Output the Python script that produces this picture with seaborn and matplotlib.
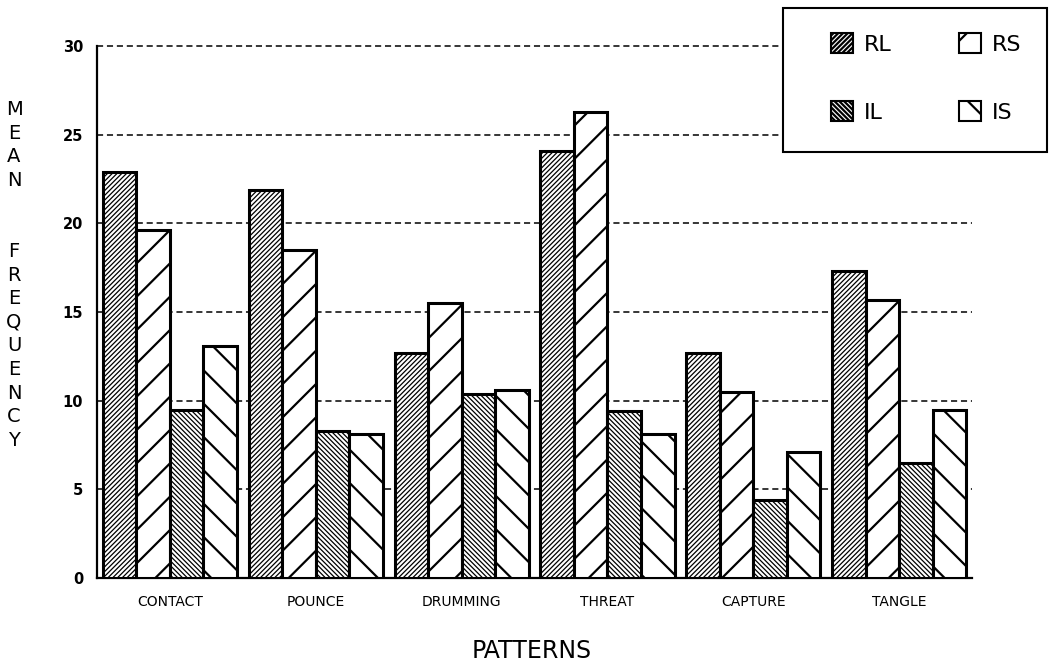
import numpy as np
import pandas as pd
import matplotlib
matplotlib.use("Agg")
import matplotlib.pyplot as plt
import seaborn as sns
from matplotlib import font_manager as fm
from matplotlib.patches import Patch, Rectangle
from matplotlib.ticker import FixedLocator

# ---- data ----
categories = ['CONTACT', 'POUNCE', 'DRUMMING', 'THREAT', 'CAPTURE', 'TANGLE']
groups = ['RL', 'RS', 'IL', 'IS']
RL = [22.9, 21.9, 12.7, 24.1, 12.7, 17.3]
RS = [19.6, 18.5, 15.5, 26.3, 10.5, 15.7]
IL = [9.5, 8.3, 10.4, 9.4, 4.4, 6.5]
IS = [13.1, 8.1, 10.6, 8.1, 7.1, 9.5]
y_ticks = [0, 5, 10, 15, 20, 25, 30]
x_label = 'PATTERNS'
y_label = 'MEAN  FREQUENCY'

values = {'RL': RL, 'RS': RS, 'IL': IL, 'IS': IS}
df = pd.DataFrame([(c, g, values[g][i]) for g in groups for i, c in enumerate(categories)],
                  columns=['pattern', 'group', 'value'])

sns.set_theme(style='white')
names = {f.name for f in fm.fontManager.ttflist}
narrow = 'Liberation Sans Narrow' if 'Liberation Sans Narrow' in names else 'DejaVu Sans'
plt.rcParams['font.family'] = [narrow, 'DejaVu Sans']
plt.rcParams['hatch.color'] = 'black'
for k in ['text.color', 'xtick.color', 'ytick.color', 'xtick.labelcolor', 'ytick.labelcolor']:
    plt.rcParams[k] = 'black'

per_artist = hasattr(Patch(), 'set_hatch_linewidth')
if per_artist:
    plt.rcParams['hatch.linewidth'] = 1.6
    hatches = {'RL': '/' * 7, 'RS': '/', 'IL': '\\' * 7, 'IS': '\\'}
else:
    plt.rcParams['hatch.linewidth'] = 1.1
    hatches = {'RL': '/' * 6, 'RS': '/', 'IL': '\\' * 6, 'IS': '\\'}
hatch_lw = {'RL': 0.9, 'RS': 1.6, 'IL': 0.9, 'IS': 1.6}

fig = plt.figure(figsize=(10.57, 6.72), dpi=100)
ax = fig.add_axes([97/1057, (672-578)/672, (972-97)/1057, (578-46)/672])

sns.barplot(data=df, x='pattern', y='value', hue='group', hue_order=groups,
            order=categories, palette={g: 'white' for g in groups}, saturation=1,
            edgecolor='black', linewidth=2.2, width=0.92, gap=0, legend=False, ax=ax,
            errorbar=None)
for cont, g in zip(ax.containers, groups):
    for bar in cont:
        bar.set_hatch(hatches[g])
        if per_artist:
            bar.set_hatch_linewidth(hatch_lw[g])
        bar.set_zorder(3)

ax.set_xlim(-0.5, len(categories) - 0.5)
ax.set_ylim(0, 30)
ax.set_yticks(y_ticks)
ax.set_yticklabels([str(t) for t in y_ticks], fontsize=10.5, fontweight='bold')
ax.tick_params(axis='y', direction='inout', length=12, width=1.3, color='black', pad=4)
ax.tick_params(axis='x', which='major', length=0, pad=12, labelsize=10)
ax.xaxis.set_minor_locator(FixedLocator(np.arange(-0.5, len(categories), 1.0)))
ax.tick_params(axis='x', which='minor', direction='inout', length=14, width=1.3, color='black')
ax.set_xlabel('')
ax.set_ylabel('')

ax.yaxis.grid(True, color='black', linestyle=(0, (4, 2.5)), linewidth=1.1)
ax.xaxis.grid(False)
ax.set_axisbelow(True)
for gl in ax.get_ygridlines():
    gl.set_clip_on(False)
for s in ['top', 'right']:
    ax.spines[s].set_visible(False)
for s in ['left', 'bottom']:
    ax.spines[s].set_color('black')
    ax.spines[s].set_linewidth(1.6)

# axis titles
fig.text(532/1057, 1 - 651/672, x_label, ha='center', va='center', fontsize=17, color='black')
fig.text(14/1057, 1 - 275/672, '\n'.join(list(y_label)), ha='center', va='center',
         fontsize=14, linespacing=1.31, color='black')

# legend box
fig.patches.append(Rectangle((783/1057, 1 - 152/672), (1047-783)/1057, (152-8)/672,
                             transform=fig.transFigure, facecolor='white', edgecolor='black',
                             linewidth=1.5, zorder=5))
order = ['RL', 'IL', 'RS', 'IS']
handles = []
for g in order:
    p = Patch(facecolor='white', edgecolor='black', linewidth=1.5, hatch=hatches[g])
    if per_artist:
        p.set_hatch_linewidth(hatch_lw[g])
    handles.append(p)
leg = fig.legend(handles, order, loc='upper left', bbox_to_anchor=(831/1057, 1 - 33/672),
                 ncol=2, frameon=False, fontsize=16, handlelength=1.0, handleheight=1.0,
                 handletextpad=0.5, columnspacing=3.0, labelspacing=2.1, borderpad=0,
                 borderaxespad=0)
leg.set_zorder(6)
for t in leg.get_texts():
    t.set_color('black')

fig.savefig('out.png', dpi=100, facecolor='white')
